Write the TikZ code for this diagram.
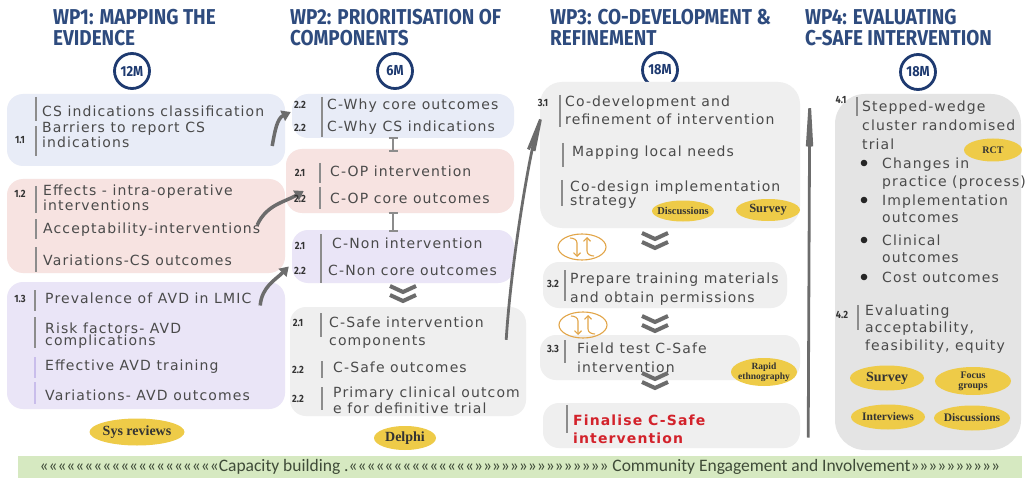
\documentclass[tikz,border=0pt]{standalone}
\usepackage{fontspec}
\usetikzlibrary{arrows.meta,shapes.geometric,fit}
\setmainfont{DejaVu Sans}
\newfontfamily\bodyfont{DejaVu Sans}[LetterSpace=8]
\newfontfamily\headfont{Fira Sans}[FakeStretch=0.88]
\newfontfamily\tagfont{Liberation Serif}
\newfontfamily\bandfont{Carlito}

\definecolor{headblue}{HTML}{2E4B7E}
\definecolor{ringblue}{HTML}{1E3A70}
\definecolor{boxblue}{HTML}{E8ECF7}
\definecolor{boxpink}{HTML}{F7E3E1}
\definecolor{boxlav}{HTML}{EAE5F7}
\definecolor{boxgrey}{HTML}{EFEFEF}
\definecolor{boxgreyd}{HTML}{E4E4E4}
\definecolor{tagyellow}{HTML}{EECB48}
\definecolor{txtgrey}{HTML}{4A4A4A}
\definecolor{bargrey}{HTML}{8C8C8C}
\definecolor{barlav}{HTML}{C9BDEB}
\definecolor{arrowgrey}{HTML}{6C6C6C}
\definecolor{swaporange}{HTML}{E2A548}
\definecolor{bandgreen}{HTML}{D6E9C1}
\definecolor{bandtext}{HTML}{3F4B38}
\definecolor{finalred}{HTML}{D3222B}

% multi-line text nodes are placed at the baseline of their last line
\tikzset{
  box/.style={rectangle, rounded corners=16pt, inner sep=0pt, draw=none},
  txt/.style={anchor=base west, inner sep=0pt, align=left, text=txtgrey,
    font=\bodyfont\fontsize{14}{18}\selectfont},
  tight/.style={font=\bodyfont\fontsize{14}{12.5}\selectfont},
  num/.style={anchor=base, inner sep=0pt, text=black!80,
    font=\headfont\bfseries\fontsize{10.5}{10.5}\selectfont},
  head/.style={anchor=base west, inner sep=0pt, align=left, text=headblue,
    font=\headfont\bfseries\fontsize{21.5}{20.5}\selectfont},
  months/.style={circle, draw=ringblue, line width=2.8pt, fill=white,
    minimum size=35pt, inner sep=0pt, text=ringblue,
    font=\headfont\bfseries\fontsize{14.5}{14.5}\selectfont},
  tag/.style={ellipse, fill=tagyellow, inner xsep=-60pt, inner ysep=-30pt,
    align=center, text=black!80},
  bar/.style={draw=bargrey, line width=1.1pt},
  link/.style={draw=black!45, line width=1.4pt, {Bar[width=9pt]}-{Bar[width=9pt]}},
  curv/.style={draw=arrowgrey, line width=3.5pt, -{Triangle[length=9pt,width=11pt]}},
  bigarrow/.style={draw=arrowgrey, line width=2.8pt},
  chev/.style={draw=arrowgrey, line width=4pt, line join=miter},
  swap/.style={draw=swaporange, line width=1.1pt},
  dchev/.pic={
    \draw[chev] (-13,-9) -- (0,-3) -- (13,-9);
    \draw[chev] (-13,0) -- (0,6) -- (13,0);
  },
  swapicon/.pic={
    \draw[swap] (0,0) ellipse [x radius=24pt, y radius=13pt];
    \draw[swap, -{Straight Barb[length=3.5pt]}] (-12,-9) to[out=0,in=90] (-5,-4) -- (-5,10);
    \draw[swap, -{Straight Barb[length=3.5pt]}] (12,9) to[out=180,in=-90] (5,4) -- (5,-10);
  },
}

\begin{document}
\begin{tikzpicture}[x=1pt,y=-1pt]
\fill[white] (0,0) rectangle (1027,481);
\useasboundingbox (0,0) rectangle (1027,481);

% ---------- headings and durations
\node[head] (h1) at (53,45.5) {WP1: MAPPING THE\\EVIDENCE};
\node[head] (h2) at (290,45.5) {WP2: PRIORITISATION OF\\COMPONENTS};
\node[head] (h3) at (550,45.5) {WP3: CO-DEVELOPMENT \&\\REFINEMENT};
\node[head] (h4) at (805,45.5) {WP4: EVALUATING\\C-SAFE INTERVENTION};

\node[months] (m1) at (132,71) {12M};
\node[months] (m2) at (395,71) {6M};
\node[months] (m3) at (660,70) {18M};
\node[months] (m4) at (918,72) {18M};

% ---------- panels
\node[box, fill=boxblue, fit={(7,94) (285,166)}] (w1a) {};
\node[box, fill=boxpink, fit={(7,179) (285,273)}] (w1b) {};
\node[box, fill=boxlav, fit={(7,282) (285,409)}] (w1c) {};

\node[box, fill=boxblue, fit={(292,94) (514,138)}] (c2a) {};
\node[box, fill=boxpink, fit={(286,149) (514,213)}] (c2b) {};
\node[box, fill=boxlav, fit={(292,230) (514,283)}] (c2c) {};
\node[box, fill=boxgrey, fit={(290,307) (526,416)}] (c2d) {};

\node[box, fill=boxgrey, rounded corners=22pt, fit={(540,82) (800,228)}] (d3a) {};
\node[box, fill=boxgrey, fit={(543,262) (787,308)}] (d3b) {};
\node[box, fill=boxgrey, fit={(540,335) (800,380)}] (d3c) {};
\node[box, fill=boxgrey, fit={(543,403) (800,448)}] (d3d) {};

\node[box, fill=boxgreyd, rounded corners=30pt, fit={(835,94) (1021,450)}] (e4) {};

% ---------- connectors
\draw[curv] ([shift={(-13,16)}]w1a.east) to[out=80,in=205] ([shift={(-1,-4)}]c2a.west);
\draw[curv] ([shift={(-28,-1)}]w1b.east) to[out=65,in=210] ([shift={(18,10)}]c2b.west);
\draw[curv] ([shift={(-25,-40)}]w1c.east) to[out=85,in=225] ([shift={(-3,10)}]c2c.west);

\draw[link] ([shift={(-10,-1)}]c2a.south) -- ([shift={(-7,3)}]c2b.north);
\draw[link] ([shift={(-7,-1)}]c2b.south) -- ([shift={(-10,2)}]c2c.north);

\draw[bigarrow, -{Stealth[length=70pt,width=13pt,inset=30pt]}]
  ([shift={(-20,33)}]c2d.north east) .. controls +(5,-80) and +(-15,50) .. ([shift={(5,-50)}]d3a.west);
\draw[bigarrow, -{Stealth[length=100pt,width=12pt,inset=45pt]}]
  ([shift={(8,12)}]d3d.east) -- ([shift={(-25,-9)}]e4.north west);

\pic at (403,295) {dchev};
\pic at (655,242) {dchev};
\pic at (655,325) {dchev};
\pic at (655,382) {dchev};
\pic at (582,247) {swapicon};
\pic at (583,325) {swapicon};

% ---------- WP1 content
\node[num] (n11) at (20,144) {1.1};
\draw[bar] (36,97) -- (36,121);
\draw[bar] (36,126) -- (36,156);
\node[txt] (t11a) at (42,117) {CS indications classification};
\node[txt,tight] (t11b) at (42,147.5) {Barriers to report CS\\indications};

\node[num] (n12) at (20,197) {1.2};
\draw[bar] (36,186) -- (36,213);
\draw[bar] (36,219) -- (36,239);
\draw[bar] (36,247) -- (36,272);
\node[txt,tight] (t12a) at (43,210.5) {Effects - intra-operative\\interventions};
\node[txt] (t12b) at (43,233) {Acceptability-interventions};
\node[txt] (t12c) at (43,265) {Variations-CS outcomes};

\node[num] (n13) at (20,302) {1.3};
\draw[bar] (35,290) -- (35,311);
\draw[bar] (35,317) -- (35,348);
\draw[bar, draw=barlav] (35,357) -- (35,378);
\draw[bar, draw=barlav] (35,382) -- (35,404);
\node[txt] (t13a) at (45,303) {Prevalence of AVD in LMIC};
\node[txt,tight] (t13b) at (45,345.5) {Risk factors- AVD\\complications};
\node[txt] (t13c) at (45,370) {Effective AVD training};
\node[txt] (t13d) at (45,400) {Variations- AVD outcomes};

\node[tag, minimum width=95pt, minimum height=27pt, font=\tagfont\bfseries\fontsize{14}{14}\selectfont] (sys) at (137,432) {Sys reviews};

% ---------- WP2 content
\draw[bar] (322,97) -- (322,137);
\node[num] (n2a) at (300,109) {2.2};
\node[txt] (t2a) at (327,110) {C-Why core outcomes};
\node[num] (n2b) at (300,132) {2.2};
\node[txt] (t2b) at (327,132) {C-Why CS indications};

\draw[bar] (320,163) -- (320,183);
\draw[bar] (320,187) -- (320,209);
\node[num] (n2c) at (300,177) {2.1};
\node[txt] (t2c) at (330,177) {C-OP intervention};
\node[num] (n2d) at (300,202) {2.2};
\node[txt] (t2d) at (330,203) {C-OP core outcomes};

\draw[bar] (321,234) -- (321,283);
\node[num] (n2e) at (300,249) {2.1};
\node[txt] (t2e) at (332,248) {C-Non intervention};
\node[num] (n2f) at (300,274) {2.2};
\node[txt] (t2f) at (328,275) {C-Non core outcomes};

\draw[bar] (321,313) -- (321,337);
\draw[bar] (322,361) -- (322,378);
\draw[bar] (322,387) -- (322,410);
\node[num] (n2g) at (298,326) {2.1};
\node[txt] (t2g) at (329,345) {C-Safe intervention\\components};
\node[num] (n2h) at (298,373) {2.2};
\node[txt] (t2h) at (333,372) {C-Safe outcomes};
\node[num] (n2i) at (298,402) {2.2};
\node[txt, font=\bodyfont\fontsize{14}{16}\selectfont] (t2i) at (333,413) {Primary clinical outcom\\e for definitive trial};

\node[tag, minimum width=62pt, minimum height=24pt, font=\tagfont\bfseries\fontsize{14}{14}\selectfont] (delphi) at (405,438) {Delphi};

% ---------- WP3 content
\node[num] (n3a) at (543,107) {3.1};
\draw[bar] (560,95) -- (560,127);
\node[txt] (t3a) at (565,125) {Co-development and\\refinement of intervention};
\draw[bar] (563,143) -- (563,167);
\node[txt] (t3b) at (572,157) {Mapping local needs};
\draw[bar] (562,180) -- (562,206);
\node[txt, font=\bodyfont\fontsize{14}{13.5}\selectfont] (t3c) at (570,205) {Co-design implementation\\strategy};
\node[tag, minimum width=62pt, minimum height=21pt, font=\tagfont\bfseries\fontsize{10.5}{10.5}\selectfont] (disc3) at (683,211) {Discussions};
\node[tag, minimum width=64pt, minimum height=22pt, font=\tagfont\bfseries\fontsize{12.5}{12.5}\selectfont] (surv3) at (768,210) {Survey};

\node[num] (n3b) at (553,287) {3.2};
\draw[bar] (565,270) -- (565,301);
\node[txt, font=\bodyfont\fontsize{14}{19}\selectfont] (t3d) at (570,302) {Prepare training materials\\and obtain permissions};

\node[num] (n3c) at (553,352) {3.3};
\draw[bar] (565,340) -- (565,363);
\node[txt, font=\bodyfont\fontsize{14}{19}\selectfont] (t3e) at (577,372) {Field test C-Safe\\intervention};
\node[tag, minimum width=66pt, minimum height=28pt, font=\tagfont\bfseries\fontsize{9.5}{9.5}\selectfont] (ethno) at (764,372) {Rapid\\ethnography};

\draw[bar] (567,405) -- (567,433);
\node[txt, text=finalred, font=\bodyfont\bfseries\fontsize{14}{18}\selectfont] (t3f) at (573,443) {Finalise C-Safe\\intervention};

% ---------- WP4 content
\node[num] (n4a) at (841,104) {4.1};
\draw[bar] (857,97) -- (857,116);
\node[txt, font=\bodyfont\fontsize{14}{19}\selectfont] (t4a) at (862,150) {Stepped-wedge\\cluster randomised\\trial};
\node[tag, minimum width=58pt, minimum height=23pt, font=\tagfont\bfseries\fontsize{10}{10}\selectfont] (rct) at (993,150) {RCT};

\fill[black!85] (864,163) circle[radius=3.3pt];
\fill[black!85] (864,200) circle[radius=3.3pt];
\fill[black!85] (864,240) circle[radius=3.3pt];
\fill[black!85] (864,277) circle[radius=3.3pt];
\node[txt] (t4b) at (882,186) {Changes in\\practice (process)};
\node[txt, font=\bodyfont\fontsize{14}{17.5}\selectfont] (t4c) at (882,222.5) {Implementation\\outcomes};
\node[txt, font=\bodyfont\fontsize{14}{17.5}\selectfont] (t4d) at (882,262.5) {Clinical\\outcomes};
\node[txt] (t4e) at (882,282) {Cost outcomes};

\node[num] (n4b) at (842,318) {4.2};
\draw[bar] (858,305) -- (858,330);
\node[txt, font=\bodyfont\fontsize{14}{17.5}\selectfont] (t4f) at (865,350) {Evaluating\\acceptability,\\feasibility, equity};

\node[tag, minimum width=74pt, minimum height=25pt, font=\tagfont\bfseries\fontsize{14}{14}\selectfont] (surv4) at (887,378) {Survey};
\node[tag, minimum width=76pt, minimum height=28pt, font=\tagfont\bfseries\fontsize{10}{10}\selectfont] (focus) at (973,381) {Focus\\groups};
\node[tag, minimum width=74pt, minimum height=25pt, font=\tagfont\bfseries\fontsize{11.5}{11.5}\selectfont] (intv) at (888,417) {Interviews};
\node[tag, minimum width=76pt, minimum height=25pt, font=\tagfont\bfseries\fontsize{11.5}{11.5}\selectfont] (disc4) at (972,418) {Discussions};

% ---------- bottom band
\node[rectangle, fill=bandgreen, inner sep=0pt, fit={(18,456) (1022,478)}] (band) {};
\node[inner sep=0pt, text=bandtext, font=\bandfont\fontsize{17.5}{17.5}\selectfont] (bandtxt) at (band.center)
  {««««««««««««««««««««Capacity building .««««««««««««««»»»»»»»»»»»»»»» Community Engagement and Involvement»»»»»»»»»»};
\end{tikzpicture}
\end{document}
